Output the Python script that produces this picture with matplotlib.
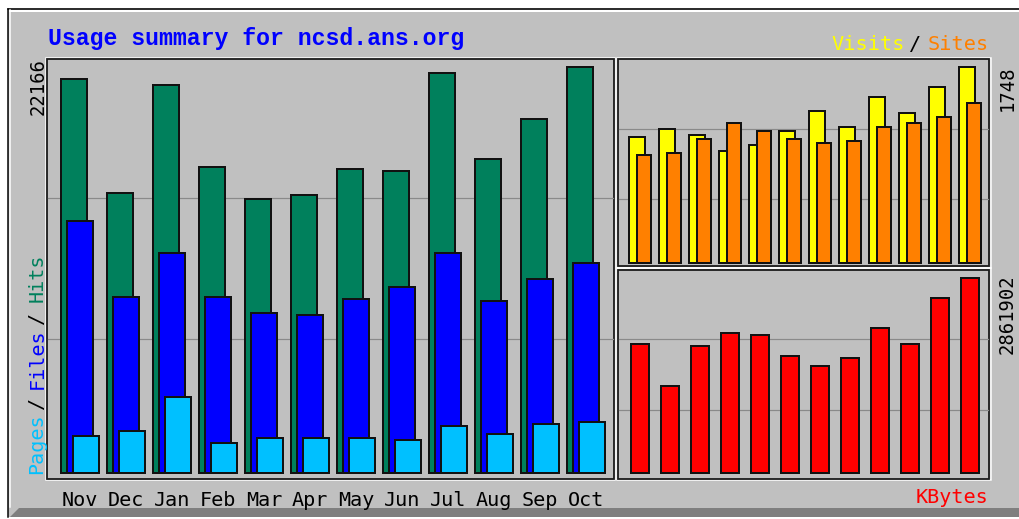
"""
Webalizer style usage summary: hits/files/pages, visits/sites and kbytes
per month, drawn with matplotlib.
"""

import numpy as np
import matplotlib.pyplot as plt
from matplotlib.patches import Rectangle, Polygon


# ----------------------------------------------------------
# Data
# ----------------------------------------------------------

months = ["Nov", "Dec", "Jan", "Feb", "Mar", "Apr",
          "May", "Jun", "Jul", "Aug", "Sep", "Oct"]

hits = [21513, 15293, 21185, 16711, 14966, 15184,
        16602, 16493, 21840, 17148, 19330, 22166]
files = [13766, 9603, 12003, 9603, 8746, 8637,
         9510, 10165, 12020, 9401, 10601, 11474]
pages = [2057, 2291, 4163, 1637, 1926, 1948,
         1948, 1839, 2602, 2166, 2712, 2821]

visits = [1125, 1193, 1143, 1000, 1054, 1178,
          1356, 1214, 1481, 1339, 1570, 1748]
sites = [965, 982, 1107, 1250, 1178, 1107,
         1071, 1089, 1214, 1250, 1303, 1428]

kbytes = [1896570, 1282260, 1867320, 2047700, 2018460, 1721060,
          1574790, 1691800, 2130590, 1896570, 2569390, 2861902]

title = "Usage summary for ncsd.ans.org"


# ----------------------------------------------------------
# Colours / layout (pixels of a 1020x519 image)
# ----------------------------------------------------------

W, H = 1020, 519
BG = "#C0C0C0"
C_HITS = "#00805C"
C_FILES = "#0000FF"
C_PAGES = "#00C0FF"
C_VISITS = "#FFFF00"
C_SITES = "#FF8000"
C_KBYTES = "#FF0000"
C_GRID = "#8a8a8a"
MONO = "DejaVu Sans Mono"
PX = 72.0 / 100   # points per pixel

LEFT = (47.5, 59, 614, 478.5)
RTOP = (618.5, 59, 989.5, 266)
RBOT = (618.5, 269.5, 989.5, 478.5)


def fig_rect(x0, y0, x1, y1):
    return [x0 / W, 1 - y1 / H, (x1 - x0) / W, (y1 - y0) / H]


def chart_axes(fig, box, group_center, step, base_px, max_px, vmax):
    x0, y0, x1, y1 = box
    ax = fig.add_axes(fig_rect(*box))
    ax.set_facecolor("none")
    for s in ax.spines.values():
        s.set_visible(False)
    ax.set_xlim((x0 - group_center) / step, (x1 - group_center) / step)
    scale = vmax / (base_px - max_px)
    ax.set_ylim(-(y1 - base_px) * scale, (base_px - y0) * scale)
    ax.set_yticks([])
    ax.set_xticks([])
    return ax


fig = plt.figure(figsize=(W / 100, H / 100), dpi=100)
fig.patch.set_facecolor("white")

# background layer in pixel coordinates
bg = fig.add_axes([0, 0, 1, 1])
bg.set_xlim(0, W)
bg.set_ylim(H, 0)
bg.axis("off")

bg.add_patch(Rectangle((8, 8), W, 509, facecolor=BG, edgecolor="none"))
bg.add_patch(Polygon([(10, 517), (19, 508), (W, 508), (W, 517)],
                     closed=True, facecolor="#7f7f7f", edgecolor="none"))
bg.plot([8.5, W], [8.5, 8.5], color="black", lw=1.5 * PX)
bg.plot([8.5, 8.5], [8.5, 517], color="black", lw=1.5 * PX)
bg.plot([10, W], [11, 11], color="white", lw=2 * PX)
bg.plot([10.5, 10.5], [10, 507], color="white", lw=1.5 * PX)

# panel borders (etched look)
for (x0, y0, x1, y1) in (LEFT, RTOP, RBOT):
    bg.add_patch(Rectangle((x0 - 1.5, y0 - 1.5), x1 - x0 + 3, y1 - y0 + 3,
                           fill=False, edgecolor="white", lw=1.5 * PX))
    bg.add_patch(Rectangle((x0, y0), x1 - x0, y1 - y0,
                           fill=False, edgecolor="#1a1a1a", lw=1.8 * PX))

# grid lines
for (x0, y0, x1, y1), rows in ((LEFT, (198, 339.3)),
                               (RTOP, (129, 199.3)),
                               (RBOT, (339.3, 409.7))):
    for gy in rows:
        bg.plot([x0 + 1, x1 - 1], [gy, gy], color=C_GRID, lw=1.2 * PX)

# ----------------------------------------------------------
# Hits / Files / Pages
# ----------------------------------------------------------

x = np.arange(len(months))
bar_kw = dict(edgecolor="#111111", linewidth=2.0 * PX)

ax = chart_axes(fig, LEFT, 80, 46, 473.3, 67, max(hits))
ax.bar(x - 6 / 46, hits, 26 / 46, color=C_HITS, **bar_kw)
ax.bar(x, files, 26 / 46, color=C_FILES, **bar_kw)
ax.bar(x + 6 / 46, pages, 26 / 46, color=C_PAGES, **bar_kw)
ax.set_xticks(x)
ax.set_xticklabels(months, family=MONO, fontsize=14.5)
ax.tick_params(axis="x", length=0, pad=9)

# ----------------------------------------------------------
# Visits / Sites
# ----------------------------------------------------------

ax2 = chart_axes(fig, RTOP, 640, 30, 263.3, 67, max(visits))
ax2.bar(x - 3 / 30, visits, 16 / 30, color=C_VISITS, **bar_kw)
ax2.bar(x + 4 / 30, sites, 14 / 30, color=C_SITES, **bar_kw)

# ----------------------------------------------------------
# KBytes
# ----------------------------------------------------------

ax3 = chart_axes(fig, RBOT, 640, 30, 473.3, 277.7, max(kbytes))
ax3.bar(x, kbytes, 18 / 30, color=C_KBYTES, **bar_kw)

# ----------------------------------------------------------
# Texts
# ----------------------------------------------------------

bg.text(48, 45, title, color="#0000FF", family="Liberation Mono",
        weight="bold", fontsize=16.7, va="baseline", ha="left")

for txt, col, xs in (("Visits", C_VISITS, 831), ("/", "black", 909),
                     ("Sites", C_SITES, 928)):
    bg.text(xs, 50, txt, color=col, family=MONO, fontsize=14.6,
            va="baseline", ha="left")

bg.text(988, 503, "KBytes", color=C_KBYTES, family=MONO, fontsize=14.5,
        va="baseline", ha="right")

for txt, col, ys in (("Pages", C_PAGES, 473.5), ("/", "black", 409),
                     ("Files", C_FILES, 389), ("/", "black", 324),
                     ("Hits", C_HITS, 302)):
    bg.text(37, ys, txt, color=col, family=MONO, fontsize=14.5,
            rotation=90, ha="center", va="bottom")

bg.text(38, 87, str(max(hits)), family=MONO, fontsize=13.6,
        rotation=90, ha="center", va="center")
bg.text(1007, 88, str(max(visits)), family=MONO, fontsize=13.6,
        rotation=90, ha="center", va="center")
bg.text(1007, 314, str(max(kbytes)), family=MONO, fontsize=13.6,
        rotation=90, ha="center", va="center")

fig.savefig("out.png", dpi=100, facecolor=fig.get_facecolor())
